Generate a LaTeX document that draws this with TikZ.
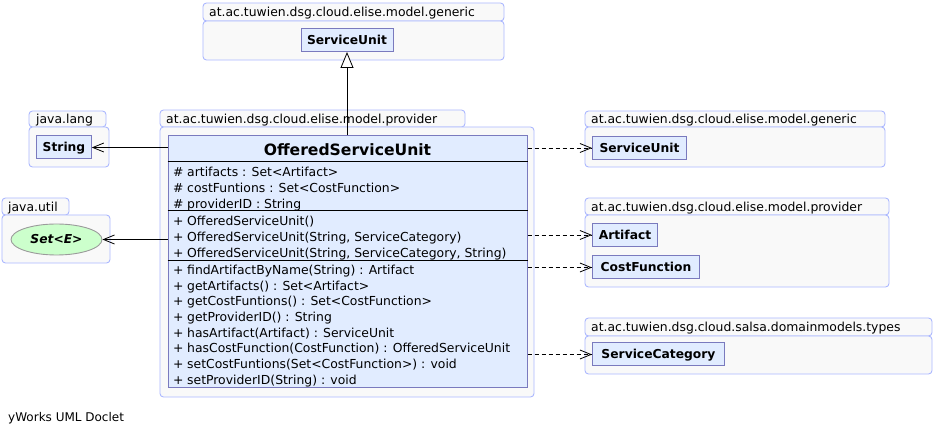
\documentclass[tikz,border=0pt]{standalone}
\usepackage{fontspec}
\setmainfont{DejaVu Sans}
\usetikzlibrary{arrows.meta,shapes.geometric}
\definecolor{pkgborder}{RGB}{172,184,255}
\definecolor{pkgfill}{RGB}{249,249,249}
\definecolor{clsfill}{RGB}{225,236,255}
\definecolor{clsborder}{RGB}{122,122,190}
\definecolor{ifacefill}{RGB}{204,255,204}
\definecolor{ifaceborder}{RGB}{155,155,155}
\begin{document}
\begin{tikzpicture}[x=1pt,y=-1pt,
  pkgshape/.style={draw=pkgborder, fill=pkgfill, line width=0.9pt, rounded corners=3.5pt},
  pkglabel/.style={anchor=base west, inner sep=0pt, font=\fontsize{12.4}{14}\selectfont},
  refbox/.style={draw=clsborder, fill=clsfill, line width=1pt, inner xsep=6pt, inner ysep=0pt,
    minimum height=23pt, font=\fontsize{12.3}{14}\selectfont\bfseries, text height=9pt, text depth=0pt},
  member/.style={anchor=base west, inner sep=0pt, font=\fontsize{12.4}{14}\selectfont},
  sepline/.style={line width=1pt, black},
  assoc/.style={line width=0.8pt, -{Straight Barb[length=11pt,width=9pt]}},
  dep/.style={assoc, dash pattern=on 4pt off 3pt},
  gen/.style={line width=0.8pt, -{Triangle[length=16pt,width=13pt,fill=white]}}
]
\useasboundingbox (0,0) rectangle (935,435);
\fill[white] (0,0) rectangle (935,435);

% package: generic (top)
\draw[pkgshape] (203,3) rectangle (504,21);
\draw[pkgshape] (203,21) rectangle (504,60);
\node[pkglabel] (pgtop) at (209,16.5) {at.ac.tuwien.dsg.cloud.elise.model.generic};
\node[refbox, minimum width=92pt] (su1) at (347,40) {ServiceUnit};

% package: provider (main)
\draw[pkgshape] (160,110) rectangle (465,127);
\draw[pkgshape] (160,127) rectangle (534,397);
\node[pkglabel] (pprov) at (166,123.5) {at.ac.tuwien.dsg.cloud.elise.model.provider};

% package: java.lang
\draw[pkgshape] (29,111) rectangle (106,127);
\draw[pkgshape] (29,127) rectangle (109,167);
\node[pkglabel] (plang) at (36,124) {java.lang};
\node[refbox, minimum width=54pt] (str) at (64,147.5) {String};

% package: java.util
\draw[pkgshape] (2,198) rectangle (69,215);
\draw[pkgshape] (2,215) rectangle (110,263);
\node[pkglabel] (putil) at (8,211.5) {java.util};
\node[ellipse, draw=ifaceborder, fill=ifacefill, line width=0.9pt, minimum width=91pt, minimum height=31pt,
  inner sep=0pt, font=\fontsize{12.3}{14}\selectfont\bfseries\itshape, text height=9pt, text depth=0pt] (sete) at (56.5,239.5) {Set<E>};

% package: generic (right)
\draw[pkgshape] (585,111) rectangle (885,127);
\draw[pkgshape] (585,127) rectangle (885,167);
\node[pkglabel] (pgr) at (591,124) {at.ac.tuwien.dsg.cloud.elise.model.generic};
\node[refbox, minimum width=94pt, anchor=west] (su2) at (592,148) {ServiceUnit};

% package: provider (right)
\draw[pkgshape] (585,198) rectangle (889,215);
\draw[pkgshape] (585,215) rectangle (889,287);
\node[pkglabel] (ppr) at (591,211.5) {at.ac.tuwien.dsg.cloud.elise.model.provider};
\node[refbox, minimum width=65pt, anchor=west] (art) at (592,235) {Artifact};
\node[refbox, minimum width=107pt, anchor=west] (cf) at (592,267.5) {CostFunction};

% package: salsa types
\draw[pkgshape] (585,318) rectangle (932,336);
\draw[pkgshape] (585,336) rectangle (932,374);
\node[pkglabel] (ptyp) at (591,331.5) {at.ac.tuwien.dsg.cloud.salsa.domainmodels.types};
\node[refbox, minimum width=132pt, anchor=west] (sc) at (592,354.5) {ServiceCategory};

% main class
\node[draw=clsborder, fill=clsfill, line width=1pt, minimum width=359pt, minimum height=252pt, inner sep=0pt] (osu) at (347.5,262) {};
\node[anchor=base, inner sep=0pt, font=\fontsize{15.6}{18}\selectfont\bfseries] (osuname) at (347.5,155.5) {OfferedServiceUnit};
\draw[sepline] (osu.west |- 0,162) -- (osu.east |- 0,162);
\draw[sepline] (osu.west |- 0,211) -- (osu.east |- 0,211);
\draw[sepline] (osu.west |- 0,261) -- (osu.east |- 0,261);

% attributes
\node[member] (a1s) at (173,176.3) {\#};
\node[member] (a1) at (187,176.3) {artifacts : Set<Artifact>};
\node[member] (a2s) at (173,192.3) {\#};
\node[member] (a2) at (187,192.3) {costFuntions : Set<CostFunction>};
\node[member] (a3s) at (173,208.3) {\#};
\node[member] (a3) at (187,208.3) {providerID : String};
% constructors
\node[member] (c1s) at (173,225.2) {+};
\node[member] (c1) at (187,225.2) {OfferedServiceUnit()};
\node[member] (c2s) at (173,241.2) {+};
\node[member] (c2) at (187,241.2) {OfferedServiceUnit(String, ServiceCategory)};
\node[member] (c3s) at (173,257.2) {+};
\node[member] (c3) at (187,257.2) {OfferedServiceUnit(String, ServiceCategory, String)};
% methods
\node[member] (m1s) at (173,274.5) {+};
\node[member] (m1) at (187,274.5) {findArtifactByName(String) : Artifact};
\node[member] (m2s) at (173,290.15) {+};
\node[member] (m2) at (187,290.15) {getArtifacts() : Set<Artifact>};
\node[member] (m3s) at (173,305.8) {+};
\node[member] (m3) at (187,305.8) {getCostFuntions() : Set<CostFunction>};
\node[member] (m4s) at (173,321.45) {+};
\node[member] (m4) at (187,321.45) {getProviderID() : String};
\node[member] (m5s) at (173,337.1) {+};
\node[member] (m5) at (187,337.1) {hasArtifact(Artifact) : ServiceUnit};
\node[member] (m6s) at (173,352.75) {+};
\node[member] (m6) at (187,352.75) {hasCostFunction(CostFunction) : OfferedServiceUnit};
\node[member] (m7s) at (173,368.4) {+};
\node[member] (m7) at (187,368.4) {setCostFuntions(Set<CostFunction>) : void};
\node[member] (m8s) at (173,384.05) {+};
\node[member] (m8) at (187,384.05) {setProviderID(String) : void};

% connectors
\draw[gen] (osu.north -| su1.south) -- (su1.south);
\draw[assoc] (osu.west |- str.east) -- (str.east);
\draw[assoc] (osu.west |- sete.east) -- (sete.east);
\draw[dep] (osu.east |- su2.west) -- (su2.west);
\draw[dep] (osu.east |- art.west) -- (art.west);
\draw[dep] (osu.east |- cf.west) -- (cf.west);
\draw[dep] (osu.east |- sc.west) -- (sc.west);

\node[anchor=base west, inner sep=0pt, font=\fontsize{12}{14}\selectfont] (footer) at (8,421.5) {yWorks UML Doclet};
\end{tikzpicture}
\end{document}
